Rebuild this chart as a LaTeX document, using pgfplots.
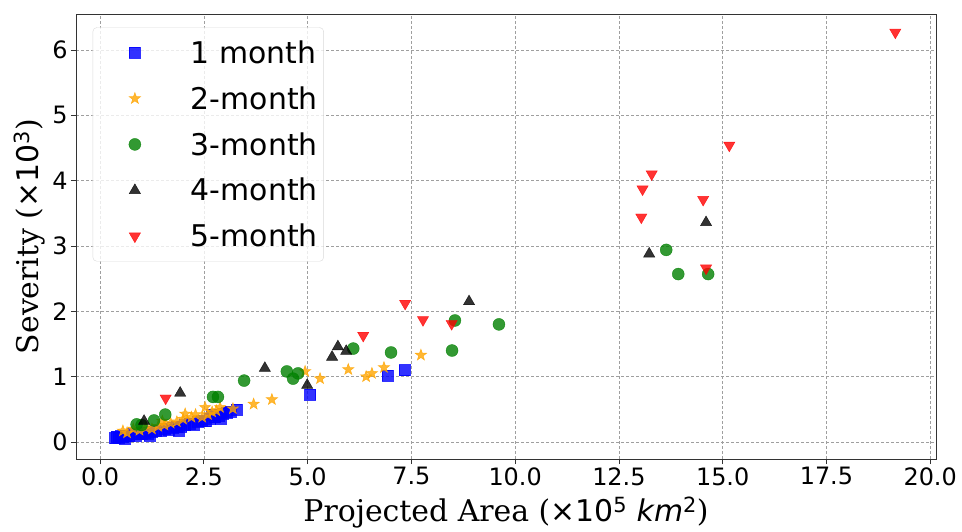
\documentclass[border=0pt]{standalone}
\usepackage{fontspec}
\setmainfont{DejaVu Sans}
\newfontfamily\serif{DejaVu Serif}
\newfontfamily\sans{DejaVu Sans}
\usepackage{pgfplots}
\pgfplotsset{compat=1.18}
\definecolor{cblue}{RGB}{0,0,255}
\definecolor{corange}{RGB}{255,165,0}
\definecolor{cgreen}{RGB}{0,128,0}
\definecolor{cblack}{RGB}{0,0,0}
\definecolor{cred}{RGB}{255,0,0}
\pgfdeclareplotmark{fstar}{%
  \pgfpathmoveto{\pgfpointpolar{90}{\pgfplotmarksize}}%
  \pgfpathlineto{\pgfpointpolar{126}{0.4\pgfplotmarksize}}%
  \pgfpathlineto{\pgfpointpolar{162}{\pgfplotmarksize}}%
  \pgfpathlineto{\pgfpointpolar{198}{0.4\pgfplotmarksize}}%
  \pgfpathlineto{\pgfpointpolar{234}{\pgfplotmarksize}}%
  \pgfpathlineto{\pgfpointpolar{270}{0.4\pgfplotmarksize}}%
  \pgfpathlineto{\pgfpointpolar{306}{\pgfplotmarksize}}%
  \pgfpathlineto{\pgfpointpolar{342}{0.4\pgfplotmarksize}}%
  \pgfpathlineto{\pgfpointpolar{18}{\pgfplotmarksize}}%
  \pgfpathlineto{\pgfpointpolar{54}{0.4\pgfplotmarksize}}%
  \pgfpathclose
  \pgfusepathqfillstroke}
\begin{document}
\begin{tikzpicture}
\useasboundingbox (-76bp,-73bp) rectangle (886bp,459bp);
\begin{axis}[
  at={(0,0)}, anchor=south west, scale only axis,
  width=860bp, height=445bp,
  xmin=-0.58, xmax=20.14, ymin=-0.26, ymax=6.55,
  xtick={0,2.5,...,20}, ytick={0,1,...,6},
  /pgf/number format/assume math mode=true,
  xticklabel style={/pgf/number format/fixed, /pgf/number format/fixed zerofill, /pgf/number format/precision=1, font=\fontsize{24}{28}\selectfont},
  yticklabel style={font=\fontsize{24}{28}\selectfont},
  tick align=outside, major tick length=5bp,
  xtick pos=bottom, ytick pos=left,
  tick style={black!80, line width=0.7bp},
  axis line style={black!80, line width=0.8bp},
  grid=major,
  major grid style={gray!75, line width=0.6bp, dash pattern=on 3bp off 2bp},
  xlabel={{\serif Projected Area (}{\sans ×10\textsuperscript{5} \textit{km}\textsuperscript{2}}{\serif )}},
  ylabel={{\serif Severity (}{\sans ×10\textsuperscript{3}}{\serif )}},
  xlabel style={at={(axis description cs:0.5,-0.1213)}, anchor=center, font=\fontsize{30}{36}\selectfont},
  ylabel style={at={(axis description cs:-0.0535,0.5)}, anchor=center, font=\fontsize{30}{36}\selectfont},
  legend style={at={(0.0194,0.970)}, anchor=north west, draw=black!15, rounded corners=4bp,
    fill=white, fill opacity=0.8, text opacity=1, font=\fontsize{30}{36}\selectfont,
    inner xsep=4bp, inner ysep=11bp, row sep=17.7bp},
  legend cell align=left,
  legend image code/.code={\path[draw=none,fill=none] (0bp,-6bp) rectangle (92bp,6bp); \draw[#1] plot coordinates {(38bp,0bp)};},
]
\addplot[only marks, mark=square*, mark size=5.5bp, mark options={draw=cblue, fill=cblue, opacity=0.8}] coordinates {
(0.36,0.06)(0.40,0.08)(0.45,0.07)(0.50,0.09)(0.55,0.08)(0.60,0.05)(0.62,0.10)(0.70,0.09)(0.78,0.12)(0.85,0.10)
(0.92,0.13)(1.00,0.12)(1.08,0.15)(1.15,0.13)(1.20,0.10)(1.25,0.16)(1.35,0.18)(1.45,0.17)(1.55,0.20)(1.65,0.19)
(1.75,0.22)(1.85,0.24)(1.90,0.18)(1.95,0.23)(2.05,0.26)(2.15,0.28)(2.25,0.27)(2.35,0.31)(2.45,0.33)(2.55,0.32)
(2.65,0.36)(2.70,0.42)(2.75,0.38)(2.85,0.40)(2.90,0.36)(2.95,0.43)(3.05,0.45)(3.15,0.47)(3.28,0.49)
(5.06,0.73)(6.92,1.02)(7.33,1.10)
};
\addlegendentry{1 month}
\addplot[only marks, mark=fstar, mark size=6bp, mark options={draw=corange, fill=corange, opacity=0.8, line width=0.5bp}] coordinates {
(0.55,0.17)(0.65,0.14)(0.80,0.20)(0.95,0.18)(1.10,0.22)(1.25,0.20)(1.40,0.24)(1.50,0.32)(1.55,0.26)(1.70,0.29)
(1.85,0.31)(2.00,0.35)(2.05,0.43)(2.20,0.38)(2.30,0.42)(2.46,0.38)(2.53,0.53)(2.60,0.42)(2.70,0.46)(2.80,0.48)
(2.89,0.53)(3.20,0.51)(3.70,0.58)(4.14,0.65)(4.94,1.08)(5.30,0.97)(5.98,1.11)(6.41,1.00)(6.55,1.05)(6.84,1.14)
(7.73,1.33)
};
\addlegendentry{2-month}
\addplot[only marks, mark=*, mark size=6bp, mark options={draw=cgreen, fill=cgreen, opacity=0.8}] coordinates {
(0.88,0.27)(1.00,0.26)(1.30,0.33)(1.57,0.42)(2.72,0.69)(2.84,0.69)(3.47,0.94)(4.50,1.08)(4.65,0.97)(4.77,1.05)
(6.10,1.43)(7.01,1.37)(8.48,1.40)(8.55,1.86)(9.61,1.80)(13.64,2.94)(13.93,2.57)(14.65,2.57)
};
\addlegendentry{3-month}
\addplot[only marks, mark=triangle*, mark size=6.5bp, mark options={draw=cblack, fill=cblack, opacity=0.8}] coordinates {
(1.06,0.32)(1.93,0.75)(3.97,1.13)(4.99,0.87)(5.59,1.30)(5.73,1.46)(5.93,1.39)(8.89,2.15)(13.23,2.88)(14.60,3.36)
};
\addlegendentry{4-month}
\addplot[only marks, mark=triangle*, mark size=6.5bp, mark options={draw=cred, fill=cred, opacity=0.8, rotate=180}] coordinates {
(1.58,0.67)(6.34,1.63)(7.35,2.12)(7.78,1.87)(8.47,1.81)(13.04,3.44)(13.07,3.87)(13.29,4.10)(14.53,3.71)(14.60,2.66)
(15.16,4.54)(19.16,6.27)
};
\addlegendentry{5-month}
\end{axis}
\end{tikzpicture}
\end{document}
